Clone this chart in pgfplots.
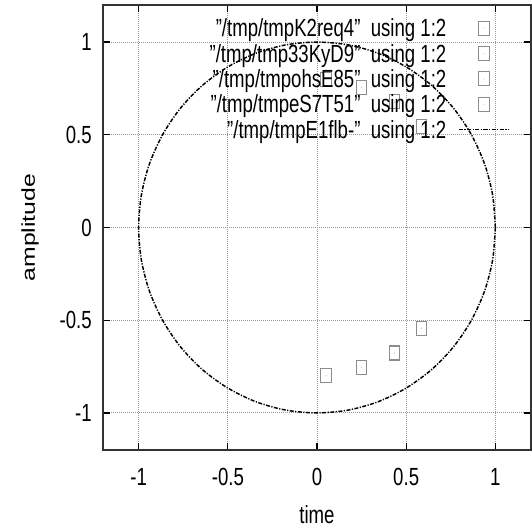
\documentclass[border=0pt]{standalone}
\usepackage{fontspec}
\setmainfont{Liberation Sans}[FakeStretch=0.75]
\newfontfamily\labelfont{Liberation Sans}
\usepackage{graphicx}
\usepackage{pgfplots}
\pgfplotsset{compat=1.18}

% gnuplot-like box point: narrow outlined rectangle with a dot in the middle
\pgfdeclareplotmark{gpbox}{%
  \pgfpathrectangle{\pgfpoint{-0.75\pgfplotmarksize}{-\pgfplotmarksize}}%
                   {\pgfpoint{1.5\pgfplotmarksize}{2\pgfplotmarksize}}%
  \pgfusepathqstroke
  \pgfpathcircle{\pgfpointorigin}{0.35pt}%
  \pgfusepathqfill}

\def\chartfont{\fontsize{18.6pt}{22pt}\selectfont}

\begin{document}
\begin{tikzpicture}
\begin{axis}[
  scale only axis,
  width=321pt, height=333.75pt,
  xmin=-1.2, xmax=1.2, ymin=-1.2, ymax=1.2,
  xtick={-1,-0.5,0,0.5,1}, ytick={-1,-0.5,0,0.5,1},
  xticklabels={-1,-0.5,0,0.5,1}, yticklabels={-1,-0.5,0,0.5,1},
  tick align=inside, xtick pos=both, ytick pos=both,
  major tick length=5.25pt,
  every tick/.style={black, line width=0.9pt},
  axis line style={black!80, line width=1.2pt},
  grid=major,
  major grid style={gray!80, dash pattern=on 0.6pt off 0.9pt, line width=0.7pt},
  tick label style={font=\chartfont, inner sep=0pt},
  xticklabel style={anchor=north, yshift=-13.5pt},
  yticklabel style={anchor=east, xshift=-8.25pt},
  xlabel={time},
  ylabel={\scalebox{1}[0.75]{\labelfont amplitude}},
  label style={font=\chartfont},
  xlabel style={at={(axis description cs:0.5,-0.1461)}, anchor=center},
  ylabel style={at={(axis description cs:-0.1706,0.5)}, anchor=center},
  legend style={draw=none, fill=none, at={(0.951,0.977)}, anchor=north east,
    font=\chartfont, column sep=9pt, row sep=0pt, inner sep=0pt,
    nodes={inner sep=0pt, text height=16.1pt, text depth=2.9pt}},
  legend cell align=right,
  legend plot pos=right,
  legend image code/.code={\draw[mark repeat=2,mark phase=2,#1]
    plot coordinates {(0pt,0pt)(18.75pt,0pt)(37.5pt,0pt)};},
  boxpts/.style={only marks, mark=gpbox, mark size=5.25pt,
    mark options={draw=gray!90, line width=0.8pt, fill=gray!90}},
]
\addplot[boxpts] coordinates {(0.05,0.80) (0.05,-0.80)};
\addlegendentry{"/tmp/tmpK2req4"\ \ using 1:2}
\addplot[boxpts] coordinates {(0.25,0.757) (0.25,-0.757)};
\addlegendentry{"/tmp/tmp33KyD9"\ \ using 1:2}
\addplot[boxpts] coordinates {(0.435,0.677) (0.435,-0.677)};
\addlegendentry{"/tmp/tmpohsE85"\ \ using 1:2}
\addplot[boxpts] coordinates {(0.587,0.543) (0.587,-0.543)};
\addlegendentry{"/tmp/tmpeS7T51"\ \ using 1:2}
% unit circle
\addplot[black, line width=1.1pt, smooth,
  dash pattern=on 3pt off 1.1pt on 0.9pt off 1.1pt] coordinates {
  (1,0) (0.985,0.174) (0.940,0.342) (0.866,0.500) (0.766,0.643)
  (0.643,0.766) (0.500,0.866) (0.342,0.940) (0.174,0.985) (0,1)
  (-0.174,0.985) (-0.342,0.940) (-0.500,0.866) (-0.643,0.766) (-0.766,0.643)
  (-0.866,0.500) (-0.940,0.342) (-0.985,0.174) (-1,0)
  (-0.985,-0.174) (-0.940,-0.342) (-0.866,-0.500) (-0.766,-0.643) (-0.643,-0.766)
  (-0.500,-0.866) (-0.342,-0.940) (-0.174,-0.985) (0,-1)
  (0.174,-0.985) (0.342,-0.940) (0.500,-0.866) (0.643,-0.766) (0.766,-0.643)
  (0.866,-0.500) (0.940,-0.342) (0.985,-0.174) (1,0)};
\addlegendentry{"/tmp/tmpE1flb-"\ \ using 1:2}
\end{axis}
\pgfresetboundingbox
\path[use as bounding box]
  ([shift={(-77.25pt,-60pt)}]current axis.south west) rectangle
  ([shift={(0.75pt,3.75pt)}]current axis.north east);
\end{tikzpicture}
\end{document}
